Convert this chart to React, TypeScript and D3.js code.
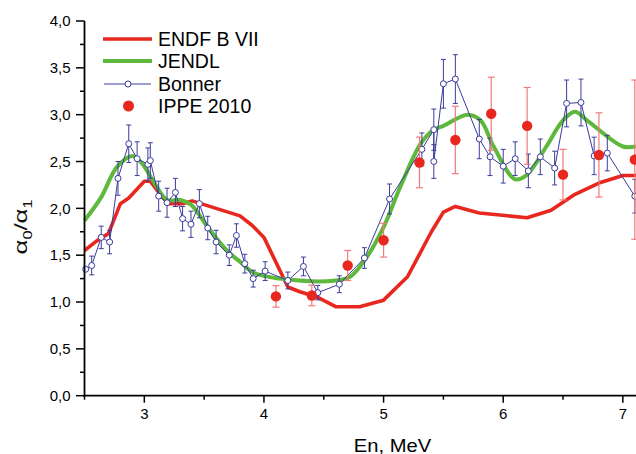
import React from "react";
import * as d3 from "d3";

const endfE = [2.5, 2.6, 2.7, 2.8, 2.87, 3.0, 3.05, 3.12, 3.2, 3.32, 3.4, 3.6, 3.8, 3.9, 4.0, 4.2, 4.3, 4.45, 4.6, 4.8, 5.0, 5.2, 5.4, 5.5, 5.6, 5.8, 6.2, 6.4, 6.6, 6.8, 7.0, 7.11];
const endfV = [1.55, 1.65, 1.73, 2.05, 2.11, 2.29, 2.29, 2.17, 2.05, 2.05, 2.08, 2.0, 1.92, 1.82, 1.69, 1.16, 1.11, 1.05, 0.95, 0.95, 1.02, 1.27, 1.75, 1.96, 2.02, 1.95, 1.9, 1.98, 2.15, 2.27, 2.35, 2.35];

const jendlE = [2.5, 2.64, 2.77, 2.9, 2.98, 3.08, 3.19, 3.3, 3.39, 3.53, 3.69, 3.8, 3.92, 4.2, 4.6, 4.72, 4.86, 5.0, 5.14, 5.31, 5.42, 5.5, 5.7, 5.81, 5.92, 6.1, 6.2, 6.36, 6.5, 6.6, 6.7, 7.0, 7.11];
const jendlV = [1.87, 2.12, 2.44, 2.56, 2.48, 2.28, 2.09, 2.09, 2.04, 1.8, 1.55, 1.43, 1.31, 1.24, 1.23, 1.27, 1.48, 1.8, 2.23, 2.69, 2.84, 2.88, 3.0, 2.94, 2.66, 2.31, 2.36, 2.66, 2.94, 3.03, 2.94, 2.66, 2.66];

const bonnerE = [2.51, 2.56, 2.64, 2.71, 2.78, 2.87, 2.94, 3.03, 3.05, 3.12, 3.19, 3.26, 3.32, 3.39, 3.46, 3.53, 3.6, 3.71, 3.77, 3.84, 3.91, 4.01, 4.2, 4.33, 4.45, 4.63, 4.84, 5.05, 5.32, 5.42, 5.42, 5.5, 5.6, 5.8, 5.89, 6.0, 6.1, 6.21, 6.31, 6.43, 6.53, 6.65, 6.76, 6.87, 7.1];
const bonnerV = [1.35, 1.39, 1.69, 1.64, 2.32, 2.69, 2.53, 2.47, 2.51, 2.13, 2.06, 2.17, 1.89, 1.83, 2.05, 1.79, 1.64, 1.5, 1.71, 1.41, 1.25, 1.33, 1.23, 1.38, 1.1, 1.19, 1.47, 2.1, 2.63, 2.84, 2.5, 3.33, 3.38, 2.74, 2.55, 2.45, 2.53, 2.4, 2.55, 2.43, 3.12, 3.13, 2.56, 2.59, 2.13];
const bonnerErr = [0, 0.1, 0.12, 0.125, 0.18, 0.2, 0.18, 0.175, 0.19, 0.16, 0.155, 0.15, 0.13, 0.14, 0.15, 0.125, 0.125, 0.11, 0.125, 0.1, 0.09, 0.1, 0.09, 0.1, 0.077, 0.09, 0.11, 0.16, 0.175, 0.22, 0.18, 0.26, 0.26, 0.21, 0.2, 0.18, 0.18, 0.18, 0.19, 0.18, 0.25, 0.25, 0.2, 0.19, 0.18];

const ippeE = [4.1, 4.4, 4.7, 5.0, 5.3, 5.6, 5.9, 6.2, 6.5, 6.8, 7.1];
const ippeV = [1.06, 1.07, 1.39, 1.66, 2.49, 2.73, 3.01, 2.88, 2.36, 2.57, 2.52];
const ippeErr = [0.115, 0.11, 0.16, 0.18, 0.27, 0.36, 0.39, 0.41, 0.27, 0.45, 0.85];

const xMajor = [3, 4, 5, 6, 7];
const xMinor = [2.5, 3.5, 4.5, 5.5, 6.5];
const yMajor = [0, 0.5, 1, 1.5, 2, 2.5, 3, 3.5, 4];
const yMinor = [0.25, 0.75, 1.25, 1.75, 2.25, 2.75, 3.25, 3.75];

const legendNames = ["ENDF B VII", "JENDL", "Bonner", "IPPE 2010"];

const RED = "#e8281f";
const GREEN = "#5db83b";
const BLUE = "#3b3b9e";
const PINK = "#f27b78";
const FONT = "'Liberation Sans', Arial, sans-serif";

export default function App() {
  const x = d3.scaleLinear().domain([2.5, 7.11]).range([84.5, 636]);
  const y = d3.scaleLinear().domain([0, 4]).range([395.7, 21]);
  const fmt = (v: number) => d3.format(".1f")(v).replace(".", ",");

  const endfLine = d3.line<number>().x((_, i) => x(endfE[i])).y((d) => y(d)).curve(d3.curveLinear);
  const jendlLine = d3.line<number>().x((_, i) => x(jendlE[i])).y((d) => y(d)).curve(d3.curveCatmullRom.alpha(0.5));
  const bonnerLine = d3.line<number>().x((_, i) => x(bonnerE[i])).y((d) => y(d));

  const x0 = x(2.5);
  const yb = y(0);

  return (
    <svg width={636} height={454} style={{ position: "absolute", left: 0, top: 0, background: "#fff" }} fontFamily={FONT}>
      <path d={endfLine(endfV) || ""} fill="none" stroke={RED} strokeWidth={3.6} strokeLinejoin="round" />
      <path d={jendlLine(jendlV) || ""} fill="none" stroke={GREEN} strokeWidth={4} strokeLinejoin="round" />

      {bonnerV.map((v, i) =>
        bonnerErr[i] > 0 ? (
          <g key={"be" + i} stroke={BLUE} strokeWidth={1}>
            <line x1={x(bonnerE[i])} x2={x(bonnerE[i])} y1={y(v - bonnerErr[i])} y2={y(v + bonnerErr[i])} />
            <line x1={x(bonnerE[i]) - 2.5} x2={x(bonnerE[i]) + 2.5} y1={y(v - bonnerErr[i])} y2={y(v - bonnerErr[i])} />
            <line x1={x(bonnerE[i]) - 2.5} x2={x(bonnerE[i]) + 2.5} y1={y(v + bonnerErr[i])} y2={y(v + bonnerErr[i])} />
          </g>
        ) : null
      )}
      <path d={bonnerLine(bonnerV) || ""} fill="none" stroke={BLUE} strokeWidth={1} />
      {bonnerV.map((v, i) => (
        <circle key={"bc" + i} cx={x(bonnerE[i])} cy={y(v)} r={3} fill="#fff" stroke={BLUE} strokeWidth={1} />
      ))}

      {ippeV.map((v, i) => (
        <g key={"ie" + i} stroke={PINK} strokeWidth={1.2}>
          <line x1={x(ippeE[i])} x2={x(ippeE[i])} y1={y(v - ippeErr[i])} y2={y(v + ippeErr[i])} />
          <line x1={x(ippeE[i]) - 3.5} x2={x(ippeE[i]) + 3.5} y1={y(v - ippeErr[i])} y2={y(v - ippeErr[i])} />
          <line x1={x(ippeE[i]) - 3.5} x2={x(ippeE[i]) + 3.5} y1={y(v + ippeErr[i])} y2={y(v + ippeErr[i])} />
        </g>
      ))}
      {ippeV.map((v, i) => (
        <circle key={"ic" + i} cx={x(ippeE[i])} cy={y(v)} r={5.2} fill={RED} />
      ))}

      <line x1={x0} x2={x0} y1={y(4)} y2={yb + 1} stroke="#000" strokeWidth={1.8} />
      <line x1={x0 - 1} x2={636} y1={yb} y2={yb} stroke="#000" strokeWidth={1.8} />
      {yMajor.map((v) => (
        <g key={"ym" + v}>
          <line x1={x0 - 8.5} x2={x0} y1={y(v)} y2={y(v)} stroke="#000" strokeWidth={1.5} />
          <text x={70.5} y={y(v)} dy="0.35em" textAnchor="end" fontSize={15} fill="#000">
            {fmt(v)}
          </text>
        </g>
      ))}
      {yMinor.map((v) => (
        <line key={"yn" + v} x1={x0 - 4.5} x2={x0} y1={y(v)} y2={y(v)} stroke="#000" strokeWidth={1.5} />
      ))}
      {xMajor.map((v) => (
        <g key={"xm" + v}>
          <line x1={x(v)} x2={x(v)} y1={yb} y2={yb + 7} stroke="#000" strokeWidth={1.5} />
          <text x={x(v)} y={418.5} textAnchor="middle" fontSize={15} fill="#000">
            {v}
          </text>
        </g>
      ))}
      {xMinor.map((v) => (
        <line key={"xn" + v} x1={x(v)} x2={x(v)} y1={yb} y2={yb + 4} stroke="#000" strokeWidth={1.5} />
      ))}

      <g transform="translate(392.5,451.5) scale(1.12,1)">
        <text x={0} y={0} textAnchor="middle" fontSize={18} fill="#000">
          En, MeV
        </text>
      </g>

      <g transform="translate(27,227) rotate(-90) scale(1.35,1)">
        <text x={0} y={0} textAnchor="middle" fontSize={19} fill="#111">
          <tspan>α</tspan>
          <tspan fontSize={12} dy={5}>0</tspan>
          <tspan dy={-5}>/α</tspan>
          <tspan fontSize={12} dy={5}>1</tspan>
        </text>
      </g>

      {legendNames.map((name, i) => {
        const ly = [39, 61, 84, 106][i];
        return (
          <g key={"lg" + i}>
            {i === 0 && <line x1={103} x2={152} y1={ly} y2={ly} stroke={RED} strokeWidth={3.6} />}
            {i === 1 && <line x1={103} x2={152} y1={ly} y2={ly} stroke={GREEN} strokeWidth={4} />}
            {i === 2 && (
              <g>
                <line x1={104} x2={151} y1={ly} y2={ly} stroke={BLUE} strokeWidth={1} />
                <circle cx={128} cy={ly} r={3} fill="#fff" stroke={BLUE} strokeWidth={1} />
              </g>
            )}
            {i === 3 && <circle cx={128.5} cy={ly} r={5.5} fill={RED} />}
            <text x={158} y={ly + 6.8} fontSize={19.5} fill="#000">
              {name}
            </text>
          </g>
        );
      })}
    </svg>
  );
}
